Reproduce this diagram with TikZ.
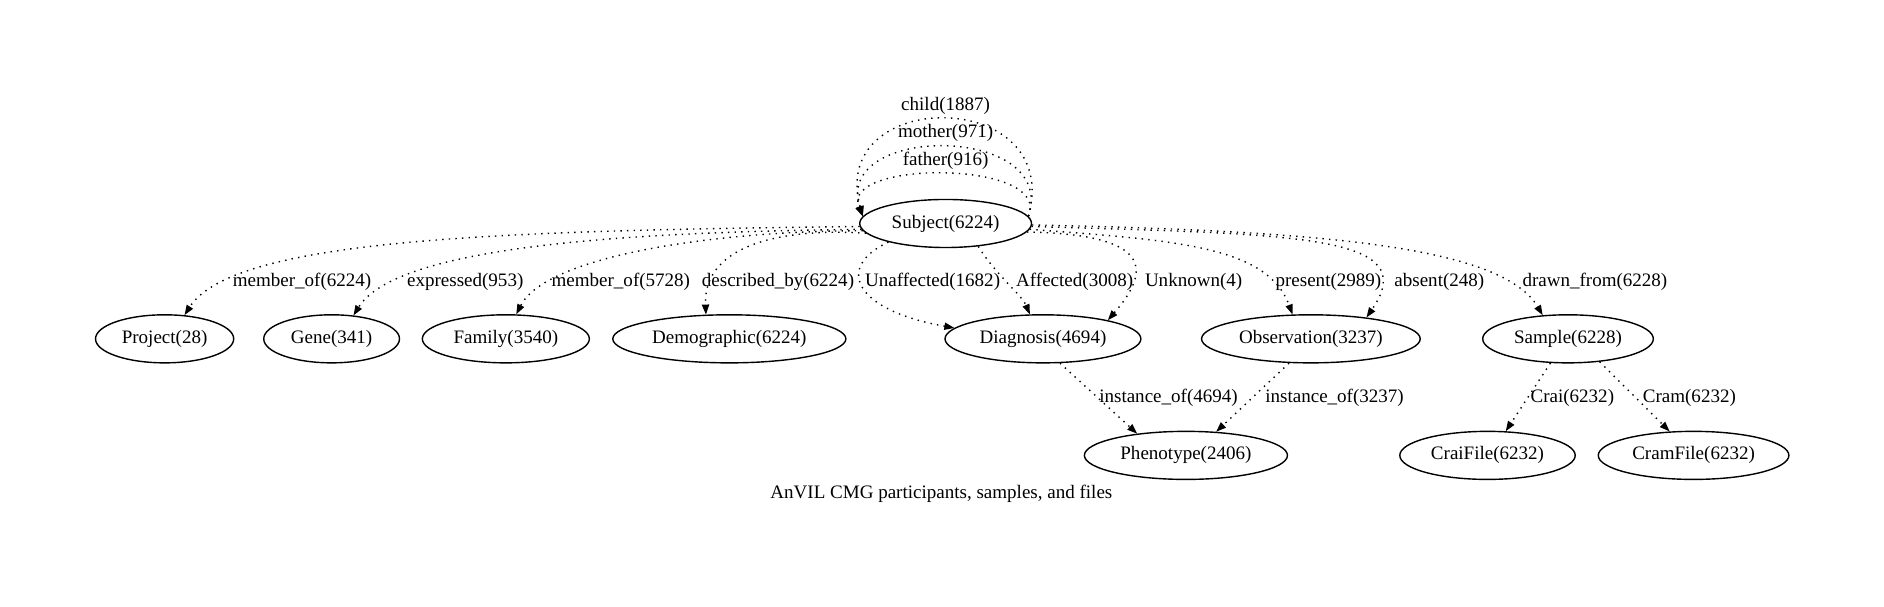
\documentclass[tikz,border=0pt]{standalone}
\usepackage{fontspec}
\setmainfont{Liberation Serif}
\usetikzlibrary{shapes.geometric, arrows.meta}

\begin{document}
\begin{tikzpicture}[
    x=0.6pt, y=-0.6pt,
    >={Triangle[length=5pt, width=3.6pt]},
    entity/.style={draw, ellipse, line width=0.7pt, minimum height=24pt, inner sep=0pt, font=\fontsize{9.5}{11}\selectfont},
    rel/.style={->, line width=0.7pt, dash pattern=on 0.7pt off 2.6pt},
    lbl/.style={font=\fontsize{9.5}{11}\selectfont, inner sep=1pt}
]

    \useasboundingbox[fill=white] (0,0) rectangle (1568,505);

    % Nodes
    \node[entity, minimum width=85.8pt] (subject) at (787,186) {Subject(6224)};
    \node[entity, minimum width=69pt] (project) at (137,282) {Project(28)};
    \node[entity, minimum width=67.8pt] (gene) at (276,282) {Gene(341)};
    \node[entity, minimum width=83.4pt] (family) at (421,282) {Family(3540)};
    \node[entity, minimum width=116.4pt] (demographic) at (607,282) {Demographic(6224)};
    \node[entity, minimum width=97.8pt] (diagnosis) at (868,282) {Diagnosis(4694)};
    \node[entity, minimum width=109.2pt] (observation) at (1091,282) {Observation(3237)};
    \node[entity, minimum width=85.2pt] (sample) at (1305,282) {Sample(6228)};
    \node[entity, minimum width=101.4pt] (phenotype) at (987,379) {Phenotype(2406)};
    \node[entity, minimum width=87.6pt] (craifile) at (1238,379) {CraiFile(6232)};
    \node[entity, minimum width=95.2pt] (cramfile) at (1409.5,379) {CramFile(6232)};

    % Caption
    \node[lbl] (caption) at (783.5,411) {AnVIL CMG participants, samples, and files};

    % Self loops
    \draw[rel] (subject.5) .. controls +(30,-108) and +(-30,-108) .. (subject.175) node[lbl] at (787,88) {child(1887)};
    \draw[rel] (subject.5) .. controls +(25,-77) and +(-25,-77) .. (subject.175) node[lbl] at (787,111) {mother(971)};
    \draw[rel] (subject.5) .. controls +(20,-47) and +(-20,-47) .. (subject.175) node[lbl] at (787,134) {father(916)};

    % Subject to the left
    \draw[rel] (subject.182) .. controls (420,192) and (195,198) .. (project.50) node[lbl] at (251.4,234.4) {member\_of(6224)};
    \draw[rel] (subject.184) .. controls (520,193) and (330,205) .. (gene.47) node[lbl] at (387.2,234.4) {expressed(953)};
    \draw[rel] (subject.185) .. controls (600,192) and (455,212) .. (family.67) node[lbl] at (516.7,234.4) {member\_of(5728)};
    \draw[rel] (subject.187) .. controls (660,190) and (585,200) .. (demographic.134) node[lbl] at (647.5,234.4) {described\_by(6224)};

    % Subject to the right
    \draw[rel] (subject.198) .. controls (695,222) and (710,258) .. (diagnosis.173) node[lbl] at (776.2,234.4) {Unaffected(1682)};
    \draw[rel] (subject.325) .. controls (828,228) and (850,245) .. (diagnosis.118) node[lbl] at (894.4,234.4) {Affected(3008)};
    \draw[rel] (subject.354) .. controls (960,195) and (958,225) .. (diagnosis.16) node[lbl] at (993.4,234.4) {Unknown(4)};
    \draw[rel] (subject.356) .. controls (980,200) and (1055,205) .. (observation.127) node[lbl] at (1105.6,234.4) {present(2989)};
    \draw[rel] (subject.358) .. controls (1080,195) and (1185,195) .. (observation.21) node[lbl] at (1197.9,234.4) {absent(248)};
    \draw[rel] (subject.359) .. controls (1100,192) and (1250,205) .. (sample.137) node[lbl] at (1327.4,234.4) {drawn\_from(6228)};

    % Lower row
    \draw[rel] (diagnosis.305) -- (phenotype.156) node[lbl] at (972.5,331.5) {instance\_of(4694)};
    \draw[rel] (observation.228) -- (phenotype.38) node[lbl] at (1110.7,331.5) {instance\_of(3237)};
    \draw[rel] (sample.234) -- (craifile.53) node[lbl] at (1308.6,331.5) {Crai(6232)};
    \draw[rel] (sample.324) -- (cramfile.135) node[lbl] at (1406,331.5) {Cram(6232)};

\end{tikzpicture}
\end{document}
